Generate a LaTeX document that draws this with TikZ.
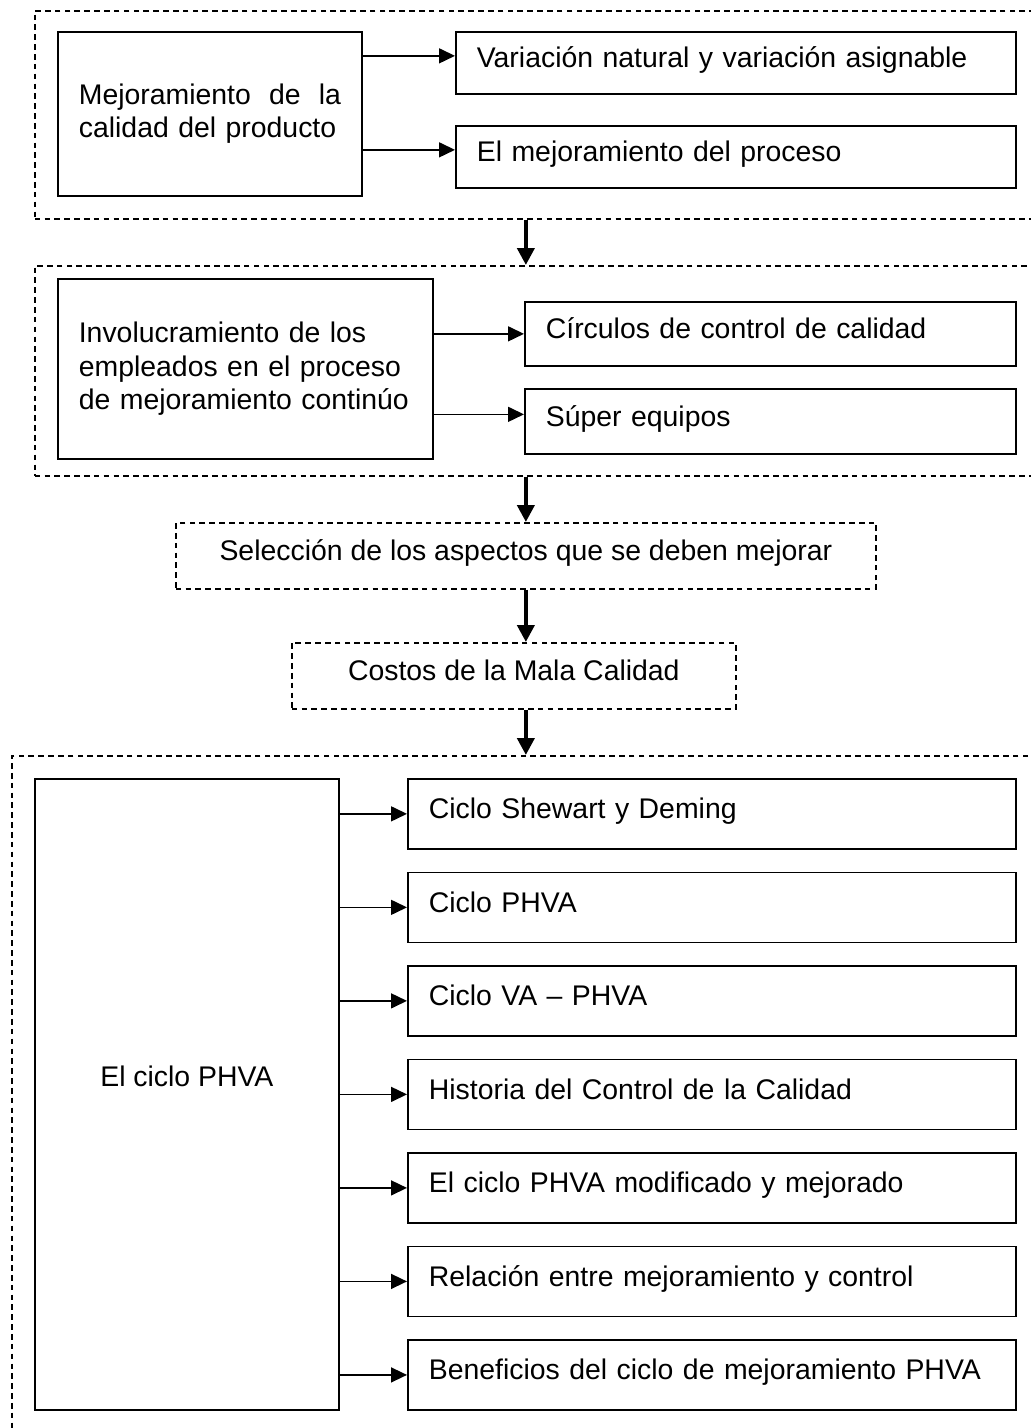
\documentclass[tikz,border=0pt]{standalone}
\usepackage{fontspec}
\setmainfont{Liberation Sans}
\usetikzlibrary{arrows.meta,positioning,calc}

\begin{document}
\begin{tikzpicture}[x=0.025cm, y=-0.025cm, >={Triangle[length=0.4cm,width=0.375cm]},
    every node/.style={font=\fontsize{20.2pt}{23.8pt}\selectfont},
    box/.style={draw, line width=1.2pt, rectangle, anchor=north west, inner sep=0pt},
    item/.style={box, inner xsep=0.525cm, align=left, text height=0.425cm, text depth=0.175cm},
    group/.style={draw, dash pattern=on 4pt off 3pt, line width=1.1pt, rectangle, anchor=north west, inner sep=0pt},
    link/.style={->, line width=1.1pt},
    flow/.style={-{Triangle[length=0.425cm,width=0.425cm]}, line width=0.1cm}]

    \useasboundingbox (0,0) rectangle (1031,1428);
    \clip (0,0) rectangle (1031,1428);

    % dashed frames
    \node[group, minimum width=25.275cm, minimum height=5.2cm]   (g1) at (34,10)  {};
    \node[group, minimum width=25.275cm, minimum height=5.25cm]  (g2) at (34,265) {};
    \node[group, minimum width=25.85cm,  minimum height=17.25cm] (g3) at (11,755) {};

    % first block
    \node[box, inner xsep=0.525cm, text width=6.55cm, align=left, minimum height=4.1cm] (mej) at (57,31)
        {Mejoramiento\hfill de\hfill la\\calidad del producto};
    \node[item, text width=12.95cm, minimum height=1.55cm] (var)  at (455,31)  {Variación natural y variación asignable};
    \node[item, text width=12.95cm, minimum height=1.55cm] (proc) at (455,125) {El mejoramiento del proceso};

    % second block
    \node[box, inner xsep=0.525cm, text width=8.325cm, align=left, minimum height=4.5cm] (inv) at (57,278)
        {Involucramiento de los\\empleados en el proceso\\de mejoramiento continúo};
    \node[item, text width=11.225cm, minimum height=1.6cm]   (circ) at (524,301) {Círculos de control de calidad};
    \node[item, text width=11.225cm, minimum height=1.625cm] (sup)  at (524,388) {Súper equipos};

    % middle steps
    \node[group, minimum width=17.5cm, minimum height=1.65cm, text height=0.425cm, text depth=0.175cm] (sel)  at (175,522)
        {Selección de los aspectos que se deben mejorar};
    \node[group, minimum width=11.1cm, minimum height=1.65cm, text height=0.425cm, text depth=0.175cm]  (cost) at (291,642)
        {Costos de la Mala Calidad};

    % third block
    \node[box, minimum width=7.6cm, minimum height=15.775cm, text height=0.425cm, text depth=0.825cm] (ciclo) at (34,778) {El ciclo PHVA};
    \node[item, text width=14.15cm, minimum height=1.75cm] (c1) at (407,778) {Ciclo Shewart y Deming};
    \node[item, text width=14.15cm, minimum height=1.75cm, below=0.545cm of c1] (c2) {Ciclo PHVA};
    \node[item, text width=14.15cm, minimum height=1.75cm, below=0.545cm of c2] (c3) {Ciclo VA -- PHVA};
    \node[item, text width=14.15cm, minimum height=1.75cm, below=0.545cm of c3] (c4) {Historia del Control de la Calidad};
    \node[item, text width=14.15cm, minimum height=1.75cm, below=0.545cm of c4] (c5) {El ciclo PHVA modificado y mejorado};
    \node[item, text width=14.15cm, minimum height=1.75cm, below=0.545cm of c5] (c6) {Relación entre mejoramiento y control};
    \node[item, text width=14.15cm, minimum height=1.75cm, below=0.545cm of c6] (c7) {Beneficios del ciclo de mejoramiento PHVA};

    % branches
    \draw[link] ($(mej.east |- var.west)+(0,-7)$)  -- ($(var.west)+(0,-7)$);
    \draw[link] ($(mej.east |- proc.west)+(0,-7)$) -- ($(proc.west)+(0,-7)$);
    \draw[link] (inv.east |- circ.west) -- (circ.west);
    \draw[link] ($(inv.east |- sup.west)+(0,-7)$)  -- ($(sup.west)+(0,-7)$);
    \draw[link] (ciclo.east |- c1.west) -- (c1.west);
    \draw[link] (ciclo.east |- c2.west) -- (c2.west);
    \draw[link] (ciclo.east |- c3.west) -- (c3.west);
    \draw[link] (ciclo.east |- c4.west) -- (c4.west);
    \draw[link] (ciclo.east |- c5.west) -- (c5.west);
    \draw[link] (ciclo.east |- c6.west) -- (c6.west);
    \draw[link] (ciclo.east |- c7.west) -- (c7.west);

    % main flow
    \draw[flow] (g1.south -| sel.north) -- (g2.north -| sel.north);
    \draw[flow] (g2.south -| sel.north) -- (sel.north);
    \draw[flow] (sel.south) -- (cost.north -| sel.south);
    \draw[flow] (cost.south -| sel.south) -- (g3.north -| sel.south);
\end{tikzpicture}
\end{document}
